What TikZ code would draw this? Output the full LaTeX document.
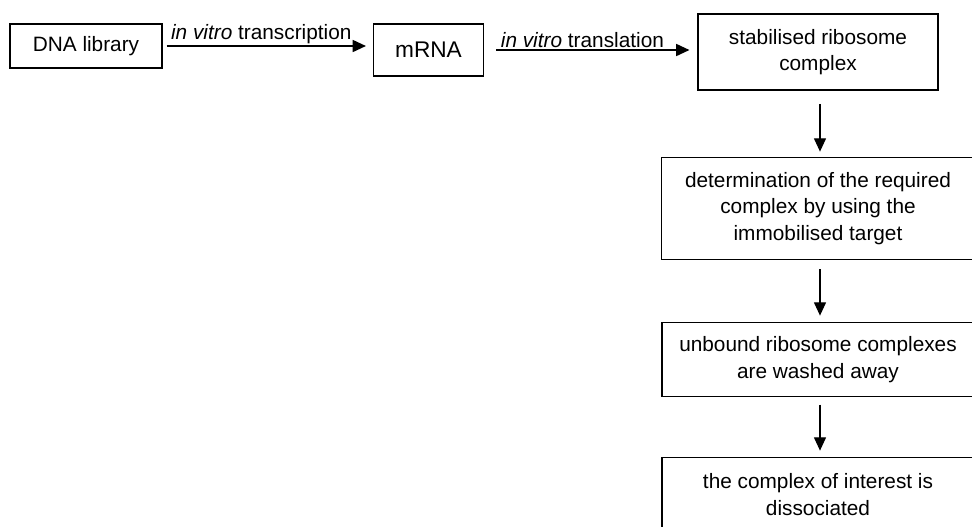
\documentclass[tikz,border=0pt]{standalone}
\usepackage{fontspec}
\setmainfont{Liberation Sans}
\usetikzlibrary{arrows.meta}

\begin{document}
\begin{tikzpicture}[
    x=0.75pt, y=-0.75pt,
    box/.style={rectangle, draw, line width=0.8pt, align=center, inner sep=0pt, font=\fontsize{15.6}{20}\selectfont},
    arrow/.style={-{Triangle[length=10pt, width=9pt]}, line width=1pt},
    lbl/.style={font=\fontsize{15.6}{20}\selectfont, inner sep=1pt}
]
    \useasboundingbox (0,0) rectangle (972,526);
    % Nodes
    \node[box, minimum width=114pt, minimum height=33pt] (dna) at (86,46) {DNA library};
    \node[box, minimum width=83pt, minimum height=39pt, font=\fontsize{17}{20}\selectfont] (mrna) at (428.5,50) {mRNA};
    \node[box, minimum width=180pt, minimum height=57pt] (ribo) at (818,52) {stabilised ribosome\\complex};
    \node[box, minimum width=235pt, minimum height=76.5pt] (select) at (818,208.5) {determination of the required\\complex by using the\\immobilised target};
    \node[box, minimum width=234pt, minimum height=55pt] (wash) at (818,359.5) {unbound ribosome complexes\\are washed away};
    \node[box, minimum width=234pt, minimum height=55pt] (elute) at (818,494.5) {the complex of interest is\\dissociated};

    % Arrows
    \draw[arrow, line width=1.3pt, shorten <=3pt, shorten >=5pt] (dna.east) -- node[lbl, above, pos=0.47] {\textit{in vitro} transcription} (dna.east -| mrna.west);
    \draw[arrow, line width=1.3pt, shorten <=9pt, shorten >=6pt] (mrna.east) -- node[lbl, above, pos=0.46] {\textit{in vitro} translation} (mrna.east -| ribo.west);
    \draw[arrow, shorten <=10pt, shorten >=4pt] (ribo.south -| 820,0) -- (select.north -| 820,0);
    \draw[arrow, shorten <=7pt, shorten >=5pt] (select.south -| 820,0) -- (wash.north -| 820,0);
    \draw[arrow, shorten <=6pt, shorten >=5pt] (wash.south -| 820,0) -- (elute.north -| 820,0);
\end{tikzpicture}
\end{document}
